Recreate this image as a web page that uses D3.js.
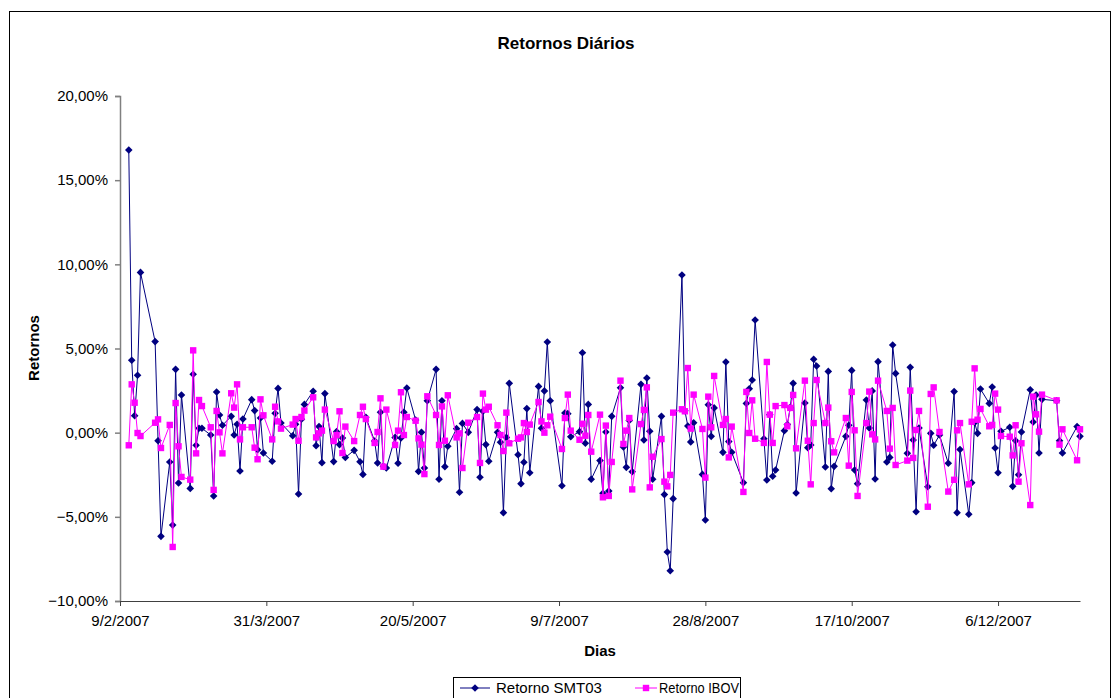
<!DOCTYPE html>
<html>
<head>
<meta charset="utf-8">
<script src="https://cdn.jsdelivr.net/npm/d3@7"></script>
<style>
  body { margin: 0; background: #fff; }
  text { font-family: Arial, "Liberation Sans", sans-serif; fill: #000; }
</style>
</head>
<body>
<svg id="chart" width="1115" height="698"></svg>
<script>
// pregões (dias úteis) usados no gráfico
const dias = [
  "2007-02-12","2007-02-13","2007-02-14","2007-02-15","2007-02-16","2007-02-21","2007-02-22","2007-02-23","2007-02-26","2007-02-27","2007-02-28",
  "2007-03-01","2007-03-02","2007-03-05","2007-03-06","2007-03-07","2007-03-08","2007-03-09","2007-03-12","2007-03-13","2007-03-14","2007-03-15","2007-03-16","2007-03-19","2007-03-20","2007-03-21","2007-03-22","2007-03-23","2007-03-26","2007-03-27","2007-03-28","2007-03-29","2007-03-30",
  "2007-04-02","2007-04-03","2007-04-04","2007-04-05","2007-04-09","2007-04-10","2007-04-11","2007-04-12","2007-04-13","2007-04-16","2007-04-17","2007-04-18","2007-04-19","2007-04-20","2007-04-23","2007-04-24","2007-04-25","2007-04-26","2007-04-27","2007-04-30",
  "2007-05-02","2007-05-03","2007-05-04","2007-05-07","2007-05-08","2007-05-09","2007-05-10","2007-05-11","2007-05-14","2007-05-15","2007-05-16","2007-05-17","2007-05-18","2007-05-21","2007-05-22","2007-05-23","2007-05-24","2007-05-25","2007-05-28","2007-05-29","2007-05-30","2007-05-31",
  "2007-06-01","2007-06-04","2007-06-05","2007-06-06","2007-06-08","2007-06-11","2007-06-12","2007-06-13","2007-06-14","2007-06-15","2007-06-18","2007-06-19","2007-06-20","2007-06-21","2007-06-22","2007-06-25","2007-06-26","2007-06-27","2007-06-28","2007-06-29",
  "2007-07-02","2007-07-03","2007-07-04","2007-07-05","2007-07-06","2007-07-10","2007-07-11","2007-07-12","2007-07-13","2007-07-16","2007-07-17","2007-07-18","2007-07-19","2007-07-20","2007-07-23","2007-07-24","2007-07-25","2007-07-26","2007-07-27","2007-07-30","2007-07-31",
  "2007-08-01","2007-08-02","2007-08-03","2007-08-06","2007-08-07","2007-08-08","2007-08-09","2007-08-10","2007-08-13","2007-08-14","2007-08-15","2007-08-16","2007-08-17","2007-08-20","2007-08-21","2007-08-22","2007-08-23","2007-08-24","2007-08-27","2007-08-28","2007-08-29","2007-08-30","2007-08-31",
  "2007-09-03","2007-09-04","2007-09-05","2007-09-06","2007-09-10","2007-09-11","2007-09-12","2007-09-13","2007-09-14","2007-09-17","2007-09-18","2007-09-19","2007-09-20","2007-09-21","2007-09-24","2007-09-25","2007-09-26","2007-09-27","2007-09-28",
  "2007-10-01","2007-10-02","2007-10-03","2007-10-04","2007-10-05","2007-10-08","2007-10-09","2007-10-10","2007-10-11","2007-10-15","2007-10-16","2007-10-17","2007-10-18","2007-10-19","2007-10-22","2007-10-23","2007-10-24","2007-10-25","2007-10-26","2007-10-29","2007-10-30","2007-10-31",
  "2007-11-01","2007-11-05","2007-11-06","2007-11-07","2007-11-08","2007-11-09","2007-11-12","2007-11-13","2007-11-14","2007-11-16","2007-11-19","2007-11-21","2007-11-22","2007-11-23","2007-11-26","2007-11-27","2007-11-28","2007-11-29","2007-11-30",
  "2007-12-03","2007-12-04","2007-12-05","2007-12-06","2007-12-07","2007-12-10","2007-12-11","2007-12-12","2007-12-13","2007-12-14","2007-12-17","2007-12-18","2007-12-19","2007-12-20","2007-12-21","2007-12-26","2007-12-27","2007-12-28",
  "2008-01-02","2008-01-03"
];

// retornos em %
const retornoSMT03 = [
  16.79, 4.30, 1.01, 3.41, 9.52, 5.41, -0.48, -6.16, -1.74, -5.49, 3.76,
  -2.99, 2.24, -3.31, 3.47, -0.75, 0.26, 0.26, -0.14, -3.76, 2.42, 1.05, 0.44, 0.97, -0.14, 0.50, -2.28, 0.81, 1.96, 1.31, -1.01, 0.87, -1.21,
  -1.70, 1.15, 2.63, 0.57, -0.18, 0.50, -3.64, 0.80, 1.68, 2.46, -0.77, 0.36, -1.78, 2.32, -1.72, 0.06, -0.71, -0.32, -1.47, -1.05,
  -1.73, -2.48, 0.91, -0.50, -1.80, 1.21, -2.00, -2.10, -0.28, -1.82, -0.32, 1.21, 2.65, 0.75, -2.30, 0.02, -2.10, 1.90, 3.76, -2.77, 1.90, -2.02,
  -0.81, 0.24, -3.54, 0.55, 0.02, 1.37, -2.65, 1.27, -0.71, -1.70, 0.02, -0.57, -4.75, -0.28, 2.93, -1.31, -3.03, -1.76, 1.43, -2.38,
  2.75, 0.26, 2.48, 5.39, 1.90, -3.15, 1.17, 1.13, -0.24, 0.06, 4.75, -0.63, 1.68, -2.77, -1.66, -3.60, 0.04, -3.47, 0.97, 2.67, -0.85,
  -2.06, 0.73, -2.32, 2.87, -0.44, 3.25, 0.08, -2.77, 0.97, -3.68, -7.09, -8.20, -3.92, 9.37, 1.30, 0.40, -0.55, 0.59, -2.48, -5.19, 1.66, -0.22, 1.47,
  -1.17, 4.20, -0.53, -1.17, -2.97, 1.74, 2.61, 3.13, 6.69, -0.36, -2.81, 1.07, -2.59, -2.22, 0.12, 0.48, 1.50, 2.93, -3.58,
  1.76, -0.89, -0.73, 4.36, 3.96, -2.04, 3.64, -3.33, -2.00, -0.22, 0.44, 3.70, -2.22, -3.03, 1.94, 0.28, 2.48, -2.75, 4.22, -1.74, -1.47, 5.21,
  3.52, -1.23, 3.88, -0.44, -4.70, 0.28, -3.21, -0.04, -0.75, -0.14, -1.82, 2.44, -4.75, -1.00, -4.85, -2.97, 0.60, -0.04, 2.59,
  1.74, 2.71, -0.91, -2.38, 0.08, 0.32, -3.19, -0.48, -2.50, 0.04, 2.55, 0.63, 2.24, -1.21, 1.98, 1.90, -0.48, -1.21,
  0.36, -0.22
];

const retornoIBOV = [
  -0.75, 2.87, 1.78, -0.02, -0.20, 0.59, 0.79, -0.91, 0.46, -6.79, 1.76,
  -0.81, -2.63, -2.79, 4.89, -1.23, 1.94, 1.58, 0.32, -3.40, 1.29, 0.02, -1.23, 2.34, 1.49, 2.87, -0.40, 0.32, 0.32, -0.89, -1.58, 1.98, 1.03,
  -0.40, 1.54, 0.67, 0.24, 0.48, 0.81, -0.48, 0.93, 1.31, 2.10, -0.28, -0.04, 0.12, 1.37, -0.50, -0.14, 1.27, -1.21, 0.36, -0.50,
  1.05, 1.54, 0.81, -0.61, 0.04, 2.04, -2.02, 1.37, -0.73, 0.12, 2.40, -0.14, 0.93, 0.71, -0.34, -0.71, -2.46, 2.16, 1.05, -0.73, 1.56, -0.48,
  2.22, -0.28, -0.04, -2.10, 0.59, 0.93, -1.80, 2.32, 1.37, 1.54, 0.44, -0.14, -1.09, 1.19, -0.63, -0.36, -0.28, 0.57, 0.04, 0.48,
  1.82, 0.67, 0.00, 0.44, 0.95, -0.97, 0.87, 2.26, 0.12, -0.42, 0.53, -0.18, 1.05, -1.13, 1.07, -3.84, 0.42, -3.76, -1.74, 3.09, -0.67,
  0.12, 0.87, -3.37, 0.51, 1.35, 2.69, -3.25, -1.43, -0.38, -2.91, -3.19, -2.51, 1.19, 1.39, 1.27, 3.84, 0.24, 2.26, 0.22, -2.67, 2.14, 0.32, 3.37,
  0.46, 0.81, -1.47, 0.36, -3.52, 2.42, -0.02, 1.92, -0.36, -0.61, 4.20, 1.07, -0.61, 1.58, 1.64, 0.38, 1.47, 2.24, -0.93,
  3.09, -0.48, -3.07, 0.57, 3.13, 0.57, 1.49, -0.51, -1.17, 0.87, -1.96, 2.42, 0.14, -3.76, 0.57, 2.44, -0.10, -0.40, 3.09, 1.29, -0.95, 1.47,
  -1.92, -1.66, 2.50, -1.50, 0.16, 1.29, -4.40, 2.30, 2.69, 0.04, -3.50, -2.80, 0.14, 0.57, -3.07, 0.65, 3.82, 0.77, 1.41,
  0.38, 0.46, 2.32, 1.37, -0.20, -0.24, -1.35, 0.44, -2.91, -0.63, -4.30, 2.14, 1.09, 0.06, 2.26, 1.92, -0.71, 0.20,
  -1.64, 0.20
];

const xTicks = ["2007-02-09","2007-03-31","2007-05-20","2007-07-09","2007-08-28","2007-10-17","2007-12-06"];
const yTicks = [-10, -5, 0, 5, 10, 15, 20];
const xDomain = ["2007-02-09", "2008-01-03"];

const width = 1115, height = 698;
const margin = { top: 96, right: 35, bottom: 97, left: 120 };

const parse = d3.utcParse("%Y-%m-%d");
const fmtDate = d3.utcFormat("%-d/%-m/%Y");
const fmtPct = (v) => d3.format(".2f")(v).replace(".", ",") + "%";

const svg = d3.select("#chart");

// moldura externa
svg.append("rect")
  .attr("x", 9.5).attr("y", 11.5)
  .attr("width", 1101).attr("height", 700)
  .attr("fill", "#fff").attr("stroke", "#000");

const x = d3.scaleUtc()
  .domain(xDomain.map(parse))
  .range([margin.left, width - margin.right]);

const y = d3.scaleLinear()
  .domain([-10, 20])
  .range([height - margin.bottom, margin.top]);

const serieA = dias.map((d, i) => ({ date: parse(d), v: retornoSMT03[i] }));
const serieB = dias.map((d, i) => ({ date: parse(d), v: retornoIBOV[i] }));

// eixo y
svg.append("g")
  .attr("transform", `translate(${margin.left},0)`)
  .call(d3.axisLeft(y).tickValues(yTicks).tickSize(5).tickPadding(7).tickFormat(fmtPct))
  .call((g) => g.selectAll(".domain, line").attr("stroke", "#808080").attr("stroke-width", 1.5))
  .call((g) => g.selectAll("text").style("font-size", "15px").attr("fill", "#000"));

// eixo x
svg.append("g")
  .attr("transform", `translate(0,${y(-10)})`)
  .call(d3.axisBottom(x).tickValues(xTicks.map(parse)).tickSize(5).tickSizeOuter(0).tickPadding(9).tickFormat(fmtDate))
  .call((g) => g.selectAll(".domain, line").attr("stroke", "#404040"))
  .call((g) => g.selectAll("text").style("font-size", "15px").attr("fill", "#000"));

// títulos
svg.append("text")
  .attr("x", 566).attr("y", 49)
  .attr("text-anchor", "middle")
  .style("font-size", "17px").style("font-weight", "bold")
  .text("Retornos Diários");

svg.append("text")
  .attr("x", 600).attr("y", 656)
  .attr("text-anchor", "middle")
  .style("font-size", "15px").style("font-weight", "bold")
  .text("Dias");

svg.append("text")
  .attr("transform", "translate(39,348) rotate(-90)")
  .attr("text-anchor", "middle")
  .style("font-size", "15px").style("font-weight", "bold")
  .text("Retornos");

const line = d3.line().x((d) => x(d.date)).y((d) => y(d.v));
const diamond = "M0,-3.8L3.8,0L0,3.8L-3.8,0Z";

// série SMT03
svg.append("path")
  .datum(serieA)
  .attr("fill", "none").attr("stroke", "#000080").attr("stroke-width", 1)
  .attr("d", line);

svg.append("g").selectAll("path")
  .data(serieA)
  .join("path")
  .attr("transform", (d) => `translate(${x(d.date)},${y(d.v)})`)
  .attr("d", diamond)
  .attr("fill", "#000080");

// série IBOV
svg.append("path")
  .datum(serieB)
  .attr("fill", "none").attr("stroke", "#FF00FF").attr("stroke-width", 1)
  .attr("d", line);

svg.append("g").selectAll("rect")
  .data(serieB)
  .join("rect")
  .attr("x", (d) => x(d.date) - 3.2)
  .attr("y", (d) => y(d.v) - 3.2)
  .attr("width", 6.4).attr("height", 6.4)
  .attr("fill", "#FF00FF");

// legenda
const leg = svg.append("g");
leg.append("rect")
  .attr("x", 453.5).attr("y", 677.5)
  .attr("width", 287).attr("height", 30)
  .attr("fill", "#fff").attr("stroke", "#000");

leg.append("line").attr("x1", 460).attr("x2", 490).attr("y1", 688).attr("y2", 688)
  .attr("stroke", "#000080");
leg.append("path").attr("transform", "translate(475,688)").attr("d", diamond).attr("fill", "#000080");
leg.append("text").attr("x", 496).attr("y", 693)
  .style("font-size", "15px").text("Retorno SMT03");

leg.append("line").attr("x1", 635).attr("x2", 657).attr("y1", 688).attr("y2", 688)
  .attr("stroke", "#FF00FF");
leg.append("rect").attr("x", 642.8).attr("y", 684.8).attr("width", 6.4).attr("height", 6.4).attr("fill", "#FF00FF");
leg.append("text").attr("x", 659).attr("y", 693)
  .attr("textLength", 80).attr("lengthAdjust", "spacingAndGlyphs")
  .style("font-size", "14px").text("Retorno IBOV");
</script>
</body>
</html>
